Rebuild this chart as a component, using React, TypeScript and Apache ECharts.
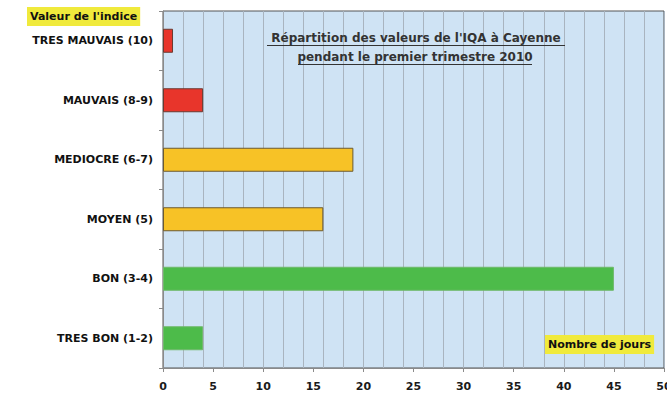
import React, { useEffect, useRef } from "react";
import * as echarts from "echarts";

const categories = [
  "TRES MAUVAIS (10)",
  "MAUVAIS (8-9)",
  "MEDIOCRE (6-7)",
  "MOYEN (5)",
  "BON (3-4)",
  "TRES BON (1-2)",
];
const values = [1, 4, 19, 16, 45, 4];
const barColors = ["#e8352b", "#e8352b", "#f7c226", "#f7c226", "#4dbb4a", "#4dbb4a"];
const borderColors = ["#6a3a30", "#6a3a30", "#6b5a30", "#6b5a30", "#6fb86a", "#6fb86a"];
const titleLines = ["Répartition des valeurs de l'IQA à Cayenne", "pendant le premier trimestre 2010"];
const yAxisName = "Valeur de l'indice";
const xAxisName = "Nombre de jours";

export default function App() {
  const ref = useRef<HTMLDivElement>(null);
  useEffect(() => {
    const chart = echarts.init(ref.current!, null, { renderer: "svg" });
    const font = "'DejaVu Sans', Arial, sans-serif";
    chart.setOption({
      animation: false,
      backgroundColor: "#ffffff",
      grid: {
        left: 163,
        right: 3,
        top: 11,
        bottom: 37,
        outerBoundsMode: "none",
        containLabel: false,
        show: true,
        backgroundColor: "#cfe3f4",
        borderColor: "#555",
        borderWidth: 1,
      },
      xAxis: [
        {
          type: "value",
          min: 0,
          max: 50,
          interval: 5,
          axisLine: { show: true, lineStyle: { color: "#8a8a8a" } },
          axisTick: { show: true, length: 4, lineStyle: { color: "#8a8a8a" } },
          axisLabel: { color: "#1a1a1a", fontWeight: "bold", fontSize: 11, fontFamily: font, margin: 13 },
          splitLine: { show: false },
        },
        {
          type: "value",
          min: 0,
          max: 50,
          interval: 2,
          position: "bottom",
          axisLine: { show: false },
          axisTick: { show: false },
          axisLabel: { show: false },
          splitLine: { show: true, lineStyle: { color: "#a9b4bf", width: 1 } },
        },
      ],
      yAxis: {
        type: "category",
        data: categories,
        inverse: true,
        axisLine: { show: true, lineStyle: { color: "#8a8a8a" } },
        axisTick: { show: true, length: 4, lineStyle: { color: "#8a8a8a" } },
        axisLabel: { color: "#111", fontWeight: "bold", fontSize: 11, fontFamily: font, margin: 10 },
        splitLine: { show: false },
      },
      series: [
        {
          type: "bar",
          xAxisIndex: 0,
          data: values.map((v, i) => ({
            value: v,
            itemStyle: { color: barColors[i], borderColor: borderColors[i], borderWidth: 1 },
          })),
          barWidth: 24,
        },
      ],
      graphic: [
        {
          type: "text",
          left: 27,
          top: 7,
          z: 10,
          style: {
            text: yAxisName,
            font: `bold 11px ${font}`,
            fill: "#111",
            backgroundColor: "#f0ea3c",
            padding: [4, 3, 4, 3],
          },
        },
        {
          type: "text",
          left: 545,
          top: 335,
          z: 10,
          style: {
            text: xAxisName,
            font: `bold 11px ${font}`,
            fill: "#111",
            backgroundColor: "#f0ea3c",
            padding: [4, 3, 4, 3],
          },
        },
        {
          type: "text",
          x: 416,
          y: 38,
          z: 10,
          style: { text: titleLines[0], font: `bold 12px ${font}`, fill: "#333", align: "center", verticalAlign: "middle" },
        },
        {
          type: "text",
          x: 415,
          y: 57,
          z: 10,
          style: { text: titleLines[1], font: `bold 12px ${font}`, fill: "#333", align: "center", verticalAlign: "middle" },
        },
        { type: "line", z: 10, shape: { x1: 267, y1: 45.5, x2: 565, y2: 45.5 }, style: { stroke: "#333", lineWidth: 1 } },
        { type: "line", z: 10, shape: { x1: 298, y1: 64.5, x2: 532, y2: 64.5 }, style: { stroke: "#333", lineWidth: 1 } },
      ],
    });
    return () => chart.dispose();
  }, []);
  return <div ref={ref} style={{ position: "fixed", left: 0, top: 0, width: 667, height: 405 }} />;
}
